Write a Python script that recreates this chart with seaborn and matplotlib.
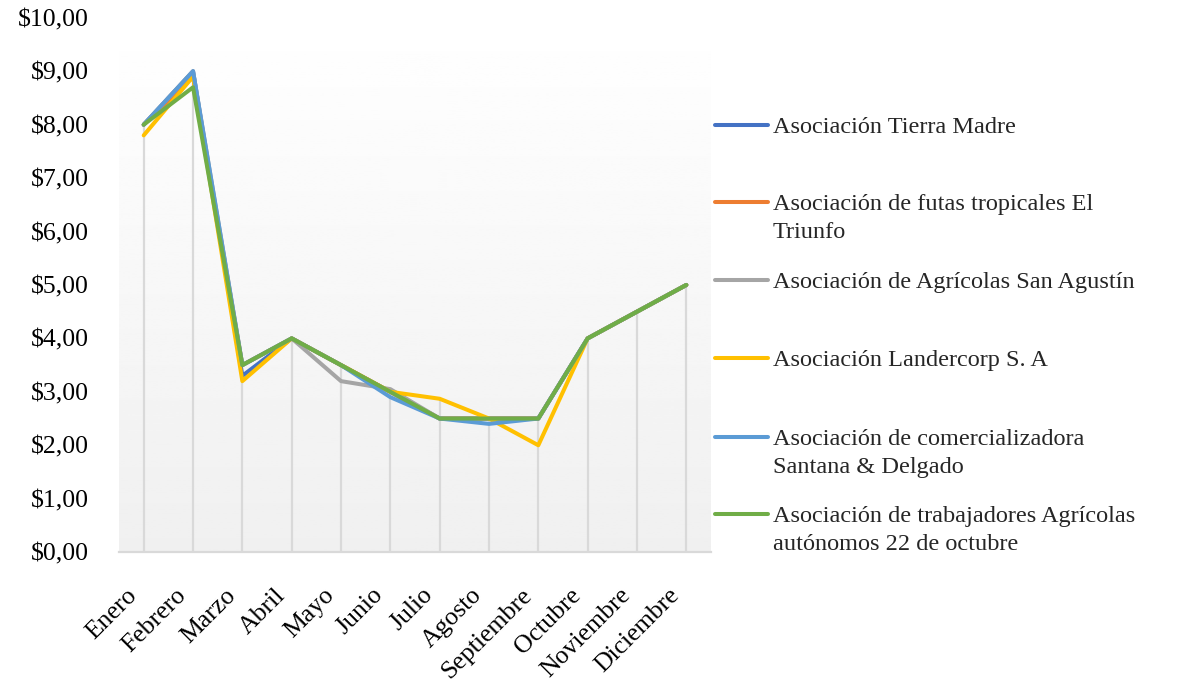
import numpy as np
import pandas as pd
import matplotlib.pyplot as plt
import matplotlib.transforms as mtransforms
import seaborn as sns
from matplotlib.lines import Line2D

months = ["Enero", "Febrero", "Marzo", "Abril", "Mayo", "Junio", "Julio",
          "Agosto", "Septiembre", "Octubre", "Noviembre", "Diciembre"]

tierra_madre = [8.0, 9.0, 3.3, 4.0, 3.5, 3.0, 2.5, 2.5, 2.5, 4.0, 4.5, 5.0]
el_triunfo = [8.0, 8.9, 3.5, 4.0, 3.5, 3.0, 2.5, 2.5, 2.5, 4.0, 4.5, 5.0]
san_agustin = [8.0, 9.0, 3.5, 4.0, 3.2, 3.05, 2.5, 2.5, 2.5, 4.0, 4.5, 5.0]
landercorp = [7.8, 8.9, 3.2, 4.0, 3.5, 3.0, 2.87, 2.5, 2.0, 4.0, 4.5, 5.0]
santana = [8.0, 9.0, 3.5, 4.0, 3.5, 2.9, 2.5, 2.4, 2.5, 4.0, 4.5, 5.0]
octubre22 = [8.0, 8.7, 3.5, 4.0, 3.5, 3.0, 2.5, 2.5, 2.5, 4.0, 4.5, 5.0]

labels = [
    "Asociación Tierra Madre",
    "Asociación de futas tropicales El\nTriunfo",
    "Asociación de Agrícolas San Agustín",
    "Asociación Landercorp S. A",
    "Asociación de comercializadora\nSantana & Delgado",
    "Asociación de trabajadores Agrícolas\nautónomos 22 de octubre",
]
series = [tierra_madre, el_triunfo, san_agustin, landercorp, santana, octubre22]
colors = ["#4472C4", "#ED7D31", "#A5A5A5", "#FFC000", "#5B9BD5", "#70AD47"]

rows = []
for lab, vals in zip(labels, series):
    for i, v in enumerate(vals):
        rows.append({"mes": i, "precio": v, "asociacion": lab})
df = pd.DataFrame(rows)

sns.set_style("white")
plt.rcParams["font.family"] = ["Liberation Serif", "DejaVu Serif"]

fig = plt.figure(figsize=(11.81, 6.85), dpi=100)
ax = fig.add_axes([0.1008, 0.194, 0.5012, 0.78])

# gradient background of plot area
grad = np.linspace(1.0, 0.94, 256).reshape(-1, 1)
ax.imshow(grad, extent=[-0.5, 11.5, 0, 10], aspect="auto", cmap="gray",
          vmin=0, vmax=1, zorder=0, origin="upper")

# drop lines
tops = np.max(np.array(series), axis=0)
ax.vlines(range(len(months)), 0, tops, color="#D9D9D9", lw=1.6, zorder=1)

sns.lineplot(data=df, x="mes", y="precio", hue="asociacion", hue_order=labels,
             palette=colors, lw=2.9, sort=False, legend=False, ax=ax,
             solid_capstyle="round", solid_joinstyle="round", zorder=3)

ax.set_xlim(-0.5, 11.5)
ax.set_ylim(0, 10)
ax.set_yticks(np.arange(0, 11, 1))
ax.set_yticklabels([f"${v},00" for v in range(11)])
ax.set_xticks(range(len(months)))
ax.set_xticklabels(months, rotation=45, ha="right", rotation_mode="anchor")
ax.tick_params(axis="both", length=0, labelsize=18.5, colors="black")
ax.tick_params(axis="y", pad=21.5)
ax.tick_params(axis="x", pad=23)
shift = mtransforms.ScaledTranslation(-0.18, 0, fig.dpi_scale_trans)
for t in ax.get_xticklabels():
    t.set_transform(t.get_transform() + shift)
ax.set_xlabel("")
ax.set_ylabel("")
for s in ["top", "right", "left"]:
    ax.spines[s].set_visible(False)
ax.spines["bottom"].set_color("#D9D9D9")
ax.spines["bottom"].set_linewidth(1.6)
ax.spines["bottom"].set_zorder(2)

# legend, one entry per series, handle aligned to the first text line
legend_y = [125, 202, 280, 358, 437, 514]
W, H = 1181, 685
for lab, col, py in zip(labels, colors, legend_y):
    yf = 1 - py / H
    fig.add_artist(Line2D([715 / W, 768 / W], [yf, yf], color=col, lw=2.9,
                          transform=fig.transFigure))
    fig.text(773 / W, yf + 8 / H, lab, fontsize=17.5, va="top", ha="left",
             linespacing=1.45)

fig.savefig("out.png", dpi=100)
